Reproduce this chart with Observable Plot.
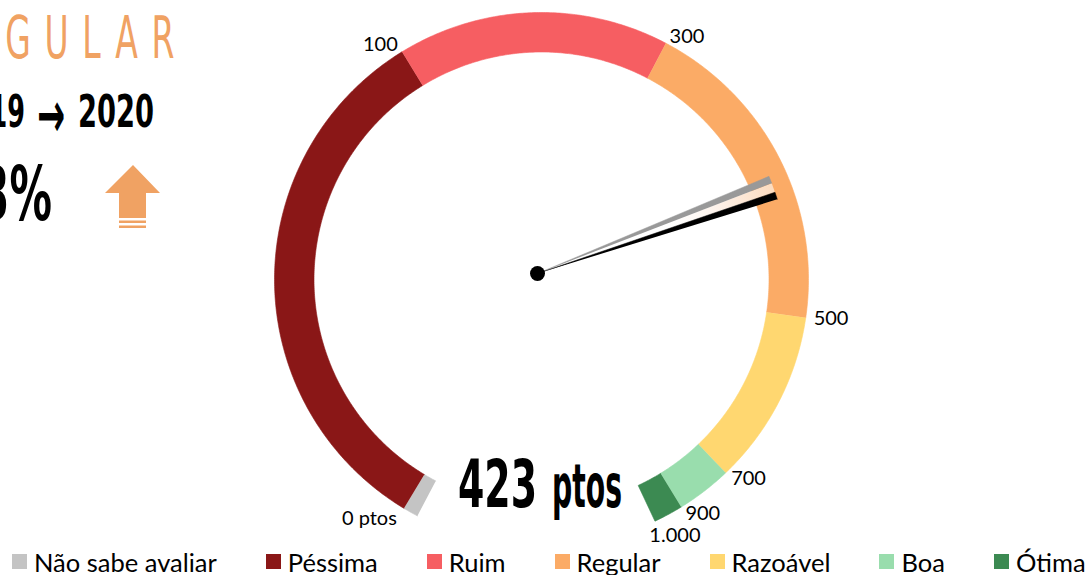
<!DOCTYPE html>
<html>
<head>
<meta charset="utf-8">
<script src="https://cdn.jsdelivr.net/npm/d3@7"></script>
<script src="https://cdn.jsdelivr.net/npm/@observablehq/plot@0.6"></script>
<style>
  body { margin: 0; background: #fff; }
  #wrap { position: relative; width: 1085px; height: 575px; overflow: hidden; }
  #chart { position: absolute; left: 0; top: 0; }
  #legend { position: absolute; left: 12px; top: 545px; width: 1200px; }
  .lg-swatches-wrap { flex-wrap: nowrap !important; }
  .lg-swatch { margin-right: 49px !important; white-space: nowrap; }
  .lg-swatch > svg { margin-right: 7px !important; }
</style>
</head>
<body>
<div id="wrap"><div id="chart"></div><div id="legend"></div></div>
<script>
// ---------- data ----------
const categories = ["Não sabe avaliar", "Péssima", "Ruim", "Regular", "Razoável", "Boa", "Ótima"];
const colors = ["#c4c4c4", "#8a1717", "#f65e62", "#fbab66", "#ffd770", "#99ddad", "#3c8a52"];
const segmentDegrees = [3.3, 117.5, 59.25, 70.5, 38.15, 12.05, 6.4]; // angular share of each band
const startAngle = -152.3;                                       // where the grey band begins
const tickValues = [0, 100, 300, 500, 700, 900, 1000];
const tickLabels = ["0 ptos", "100", "300", "500", "700", "900", "1.000"];
const score2019 = 412;
const score2020 = 423;
const rating = "REGULAR";
const years = ["2019", "2020"];
const changeLabel = "3%";

// ---------- geometry ----------
const W = 1085, H = 540;
const R = 267;                 // outer radius, px
const CX = 541, CY = 279;      // ring centre, px
const innerR = 227.5 / R;
const pivot = {x: -4 / R, y: 6 / R};
const needleLen = 251 / R;
const needleWidth = 1.7;       // degrees

const cum = [startAngle];
segmentDegrees.forEach((d, i) => cum.push(cum[i] + d));
const rad = a => a * Math.PI / 180;
const polar = (r, a, o = {x: 0, y: 0}) => ({x: o.x + r * Math.sin(rad(a)), y: o.y + r * Math.cos(rad(a))});
const angleOf = d3.scaleLinear().domain(tickValues).range(cum.slice(1));

const ringPts = [];
categories.forEach((cat, i) => {
  const a0 = cum[i], a1 = cum[i + 1];
  const n = Math.max(2, Math.ceil((a1 - a0) / 0.5));
  for (let k = 0; k <= n; k++) ringPts.push({cat, ...polar(1, a0 + (a1 - a0) * k / n)});
  for (let k = n; k >= 0; k--) ringPts.push({cat, ...polar(innerR, a0 + (a1 - a0) * k / n)});
});

const needle = v => {
  const a = angleOf(v);
  return [pivot, polar(needleLen, a, pivot), polar(needleLen, a + needleWidth, pivot)];
};
const wedge = [pivot, polar(needleLen, angleOf(score2019) + needleWidth, pivot), polar(needleLen, angleOf(score2020), pivot)];

const nudges = {0: [-3, 3], 6: [-9, 7]};
const labels = tickValues.map((v, i) => {
  const a = angleOf(v);
  const p = polar(1 + 8 / R, a);
  const [dx, dy] = nudges[i] || [0, 0];
  return {text: tickLabels[i], x: p.x + dx / R, y: p.y - dy / R, side: Math.sin(rad(a)) < 0 ? "end" : "start"};
});

const labelFont = {fontFamily: "Lato, 'Open Sans', sans-serif", fontSize: 20, fill: "#000"};

const plot = Plot.plot({
  width: W, height: H, margin: 0,
  style: {fontFamily: "Lato, sans-serif", background: "transparent", overflow: "visible"},
  x: {domain: [-CX / R, (W - CX) / R], axis: null},
  y: {domain: [-(H - CY) / R, CY / R], axis: null},
  color: {domain: categories, range: colors},
  marks: [
    Plot.line(ringPts, {x: "x", y: "y", z: "cat", fill: "cat", stroke: "cat", strokeWidth: 0.6, curve: "linear"}),
    Plot.line(wedge, {x: "x", y: "y", fill: "url(#needleGrad)", stroke: "none", curve: "linear"}),
    Plot.line(needle(score2019), {x: "x", y: "y", fill: "#999999", stroke: "#999999", strokeWidth: 0.5, curve: "linear"}),
    Plot.line(needle(score2020), {x: "x", y: "y", fill: "#000000", stroke: "#000000", strokeWidth: 0.5, curve: "linear"}),
    Plot.dot([pivot], {x: "x", y: "y", r: 7.5, fill: "#000", stroke: "none"}),
    Plot.text(labels.filter(d => d.side === "end"), {x: "x", y: "y", text: "text", textAnchor: "end", ...labelFont}),
    Plot.text(labels.filter(d => d.side === "start"), {x: "x", y: "y", text: "text", textAnchor: "start", ...labelFont})
  ]
});
document.getElementById("chart").appendChild(plot);

// gradient for the wedge between the two needles
const xs = plot.scale("x"), ys = plot.scale("y");
const tipMid = polar(needleLen, (angleOf(score2019) + angleOf(score2020) + needleWidth) / 2, pivot);
const svg = d3.select(plot);
const defs = svg.insert("defs", ":first-child");
const grad = defs.append("linearGradient").attr("id", "needleGrad").attr("gradientUnits", "userSpaceOnUse")
  .attr("x1", xs.apply(pivot.x)).attr("y1", ys.apply(pivot.y))
  .attr("x2", xs.apply(tipMid.x)).attr("y2", ys.apply(tipMid.y));
grad.append("stop").attr("offset", 0.5).attr("stop-color", "#ffffff").attr("stop-opacity", 0);
grad.append("stop").attr("offset", 0.8).attr("stop-color", "#fdeee3").attr("stop-opacity", 1);
grad.append("stop").attr("offset", 1).attr("stop-color", "#fcdcbf").attr("stop-opacity", 1);

// ---------- annotation texts ----------
const cond = "'Liberation Sans Narrow', 'DejaVu Sans Condensed', 'Roboto Condensed', sans-serif";
const ann = svg.append("g").attr("text-anchor", "start");
const cx = xs.apply(0), cy = ys.apply(0);
ann.append("text").text(String(score2020))
  .attr("x", cx - 83).attr("y", cy + 228).attr("textLength", 79).attr("lengthAdjust", "spacingAndGlyphs")
  .attr("font-family", cond).attr("font-weight", "bold").attr("font-size", 65).attr("fill", "#000");
ann.append("text").text("ptos")
  .attr("x", cx + 11).attr("y", cy + 228).attr("textLength", 70).attr("lengthAdjust", "spacingAndGlyphs")
  .attr("font-family", cond).attr("font-weight", "bold").attr("font-size", 61).attr("fill", "#000");

const orange = "#f0a263";
ann.append("text").text(rating)
  .attr("x", -66).attr("y", 58).attr("textLength", 254).attr("lengthAdjust", "spacingAndGlyphs")
  .attr("letter-spacing", 22)
  .attr("font-family", cond).attr("font-size", 59).attr("fill", orange);
ann.append("text").text(years[0])
  .attr("x", -46).attr("y", 127).attr("textLength", 71).attr("lengthAdjust", "spacingAndGlyphs")
  .attr("font-family", cond).attr("font-weight", "bold").attr("font-size", 45).attr("fill", "#000");
ann.append("text").text("→")
  .attr("x", 37).attr("y", 137).attr("textLength", 28).attr("lengthAdjust", "spacingAndGlyphs")
  .attr("font-family", "'DejaVu Sans', sans-serif").attr("font-weight", "bold").attr("font-size", 64).attr("fill", "#000");
ann.append("text").text(years[1])
  .attr("x", 78).attr("y", 127).attr("textLength", 76).attr("lengthAdjust", "spacingAndGlyphs")
  .attr("font-family", cond).attr("font-weight", "bold").attr("font-size", 45).attr("fill", "#000");
ann.append("text").text(changeLabel)
  .attr("x", -20).attr("y", 220).attr("textLength", 72).attr("lengthAdjust", "spacingAndGlyphs")
  .attr("font-family", cond).attr("font-weight", "bold").attr("font-size", 74).attr("fill", "#000");

// up arrow icon
const icon = ann.append("g").attr("fill", orange);
icon.append("path").attr("d", "M133,165 L160,193 L146,193 L146,218 L119,218 L119,193 L105,193 Z");
icon.append("rect").attr("x", 119).attr("y", 220.5).attr("width", 27).attr("height", 2.5);
icon.append("rect").attr("x", 119).attr("y", 225.5).attr("width", 27).attr("height", 2.5);

// ---------- legend ----------
const legend = Plot.legend({
  color: {domain: categories, range: colors},
  legend: "swatches", swatchSize: 15, className: "lg",
  style: {fontFamily: "Lato, 'Open Sans', sans-serif", fontSize: "25.5px", color: "#000"}
});
document.getElementById("legend").appendChild(legend);
</script>
</body>
</html>
